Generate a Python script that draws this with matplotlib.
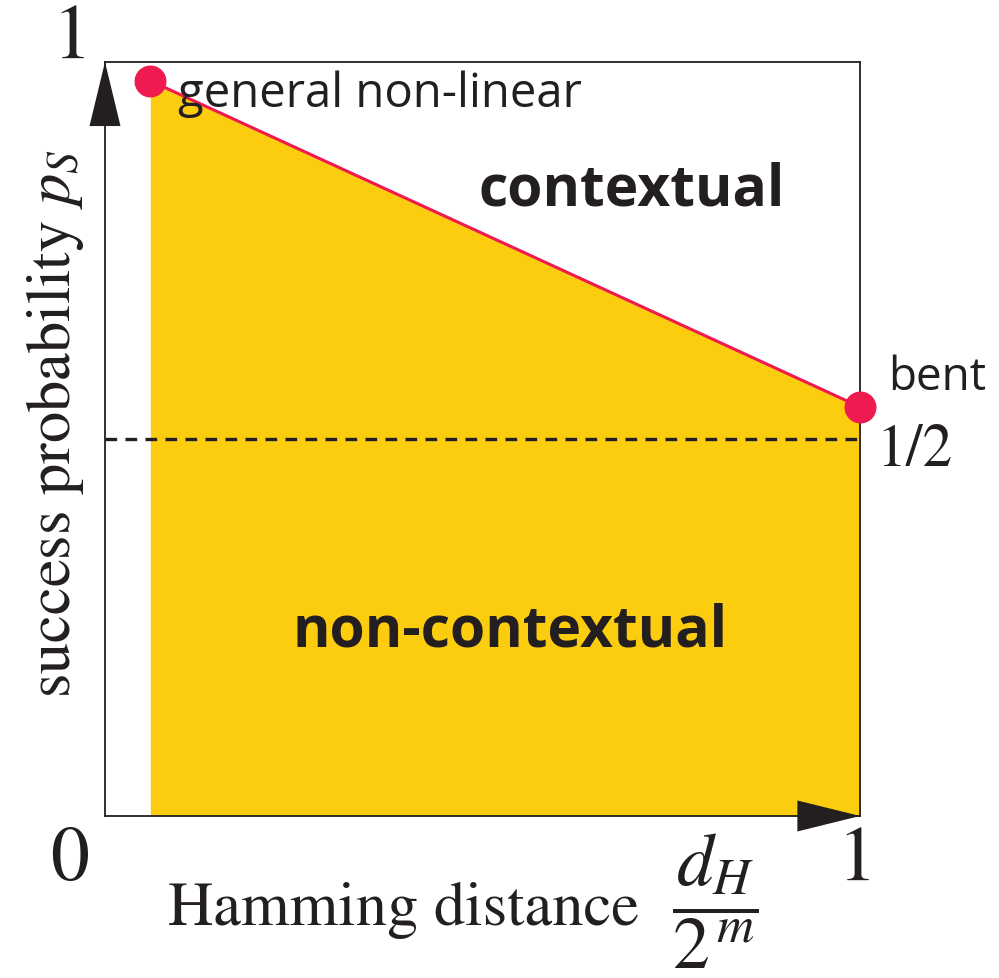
import matplotlib
matplotlib.use("Agg")
import matplotlib.pyplot as plt

# ------------------------------------------
# Data

boundary_x = [0.06, 1.0]          # general non-linear -> bent
boundary_y = [0.975, 0.5425]
half_level = 0.5
point_labels = ["general non-linear", "bent"]

yellow = "#FCCC0F"
crimson = "#EE1A50"
ink = "#231F20"

plt.rcParams["mathtext.fontset"] = "stix"

fig = plt.figure(figsize=(9.99, 9.79), dpi=100)
ax = fig.add_axes([0.1051, 0.1655, 0.7558, 0.7702])
ax.set_xlim(0, 1)
ax.set_ylim(0, 1)
ax.set_xticks([])
ax.set_yticks([])
for s in ax.spines.values():
    s.set_color(ink)
    s.set_linewidth(1.3)

# region under the boundary
ax.fill_between(boundary_x, [0, 0], boundary_y, color=yellow, linewidth=0, zorder=1)
ax.plot(boundary_x, boundary_y, color=crimson, linewidth=2.2, zorder=3)
ax.plot(boundary_x, boundary_y, "o", color=crimson, markersize=22, zorder=4, clip_on=False)

# 1/2 level
ax.plot([0, 1], [half_level, half_level], color=ink, linewidth=2.4,
        dashes=(3.5, 2.5), zorder=2)

# axis arrows
hw_x = 15.5 / 755
hw_y = 15.5 / 754
ax.fill([-hw_x, hw_x, 0], [0.915, 0.915, 1.0], color=ink, transform=ax.transAxes,
        clip_on=False, zorder=5, linewidth=0)
ax.fill([0.917, 0.917, 1.0], [-hw_y, hw_y, 0], color=ink, transform=ax.transAxes,
        clip_on=False, zorder=5, linewidth=0)

serif = "STIXGeneral"
sans = "Open Sans"

fig.text(72 / 999, 1 - 40 / 979, "1", fontsize=56, family=serif, color=ink,
         ha="center", va="center")
fig.text(70 / 999, 1 - 862 / 979, "0", fontsize=56, family=serif, color=ink,
         ha="center", va="center")
fig.text(857 / 999, 1 - 862 / 979, "1", fontsize=56, family=serif, color=ink,
         ha="center", va="center")
fig.text(876 / 999, 1 - 452 / 979, "1/2", fontsize=43, family=serif, color=ink,
         ha="left", va="center")

fig.text(178 / 999, 1 - 94 / 979, point_labels[0], fontsize=34, family=sans,
         color=ink, ha="left", va="center")
fig.text(888 / 999, 1 - 378 / 979, point_labels[1], fontsize=33, family=sans,
         color=ink, ha="left", va="center")

fig.text(632 / 999, 1 - 190 / 979, "contextual", fontsize=41, family=sans,
         weight="bold", color=ink, ha="center", va="center")
fig.text(510 / 999, 1 - 632 / 979, "non-contextual", fontsize=41, family=sans,
         weight="bold", color=ink, ha="center", va="center")

fig.text(55 / 999, 1 - 424 / 979, "success probability $p_S$", fontsize=45,
         family=serif, color=ink, rotation=90, ha="center", va="center")
fig.text(168 / 999, 1 - 925 / 979, "Hamming distance", fontsize=45,
         family=serif, color=ink, ha="left", va="baseline")
fig.text(715 / 999, 1 - 901 / 979, r"$\dfrac{d_H}{2^{\,m}}$",
         fontsize=53, family=serif, color=ink, ha="center", va="center")

fig.savefig("out.png", dpi=100)
